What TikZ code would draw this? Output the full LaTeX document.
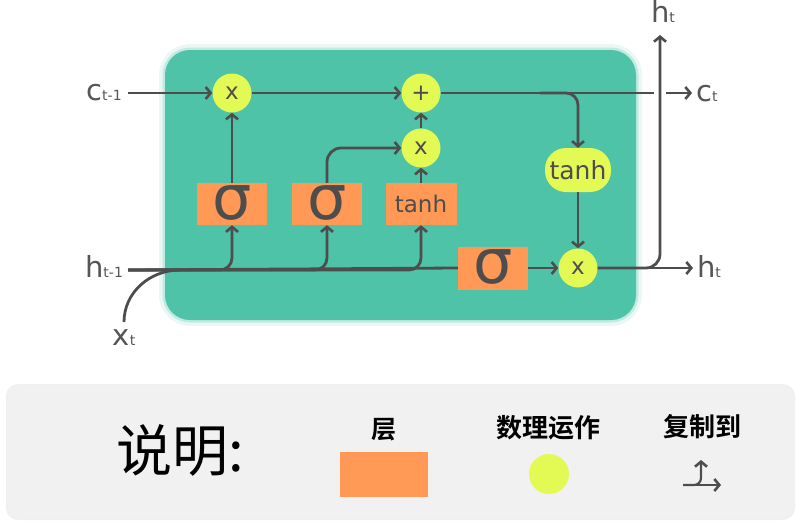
\documentclass[tikz,border=0pt]{standalone}
\usepackage{fontspec}
\setmainfont{DejaVu Sans}
\newfontfamily\cjk[BoldFont={Noto Sans CJK SC Bold}]{Noto Sans CJK SC}
\usetikzlibrary{arrows.meta}
\definecolor{boxgreen}{HTML}{4EC3A8}
\definecolor{layer}{HTML}{FF9955}
\definecolor{opyel}{HTML}{E3FA55}
\definecolor{linegray}{HTML}{4D4D4D}
\definecolor{txtgray}{HTML}{555555}
\definecolor{legbg}{HTML}{F1F1F1}
\tikzset{
  conn/.style={draw=linegray, line width=2.8pt, -{Straight Barb[length=5pt,width=12pt,line width=2.6pt]}},
  plain/.style={draw=linegray, line width=2.8pt},
  opnode/.style={circle, fill=opyel, minimum size=39pt, inner sep=0pt, text=linegray, font=\fontsize{23}{23}\selectfont},
  layerbox/.style={rectangle, fill=layer, minimum width=70pt, minimum height=42pt, inner sep=0pt, text=linegray},
  lbl/.style={text=txtgray, inner sep=0pt},
}
\newcommand{\bigsym}[2]{{\fontsize{29}{29}\selectfont #1}{\fontsize{14}{14}\selectfont #2}}
\begin{document}
\begin{tikzpicture}[x=1pt,y=-1pt]
\useasboundingbox (0,0) rectangle (800,525);
% glow + green box
\draw[boxgreen!12, line width=12pt, rounded corners=25] (165,50) rectangle (636,320);
\draw[boxgreen!35, line width=5pt, rounded corners=25] (165,50) rectangle (636,320);
\fill[boxgreen, rounded corners=25] (165,50) rectangle (636,320);

% nodes
\node[opnode] (mul1) at (232,93) {x};
\node[opnode] (add) at (421,93) {+};
\node[opnode] (mul2) at (421,148) {x};
\node[opnode] (mul3) at (578,268) {x};
\node[rectangle, rounded corners=21pt, fill=opyel, minimum width=66pt, minimum height=44pt, inner sep=0pt, text=linegray, font=\fontsize{25}{25}\selectfont] (tanhE) at (578,170) {tanh};
\node[layerbox, font=\fontsize{62}{62}\selectfont] (s1) at (232,204) {\raisebox{3pt}{σ}};
\node[layerbox, font=\fontsize{62}{62}\selectfont] (s2) at (327,204) {\raisebox{3pt}{σ}};
\node[layerbox, minimum width=71pt, font=\fontsize{23}{23}\selectfont] (tb) at (421,204) {tanh};
\node[layerbox, minimum height=43pt, font=\fontsize{62}{62}\selectfont] (s3) at (493,268) {\raisebox{3pt}{σ}};

% labels
\node[lbl] (lct1) at (104,93) {\bigsym{c}{t-1}};
\node[lbl] (lht1) at (104,266) {\bigsym{h}{t-1}};
\node[lbl] (lxt) at (124,338) {\bigsym{x}{t}};
\node[lbl] (lhtop) at (663,11) {\bigsym{h}{t}};
\node[lbl] (lct) at (707,94) {\bigsym{c}{t}};
\node[lbl] (lht) at (709,266) {\bigsym{h}{t}};

% coordinates
\coordinate (cin) at (128,93);
\coordinate (hin) at (128,270);
\coordinate (xin) at (124,322);
\coordinate (xj) at (180,270);
\coordinate (cgap1) at (654,93);
\coordinate (cgap2) at (666,93);
\coordinate (ctend) at (692,93);
\coordinate (htend) at (693,268);
\coordinate (htop) at (660,35);
\coordinate (cbr) at (540,93);

% connectors
\draw[conn] (cin) -- (mul1);
\draw[conn] (s1) -- (mul1);
\draw[conn] (mul1) -- (add);
\draw[conn] (mul2) -- (add);
\draw[conn] (tb) -- (mul2);
\draw[conn, rounded corners=14pt] (s2.north) |- (mul2.west);
\draw[plain] (add) -- (cgap1);
\draw[conn] (cgap2) -- (ctend);
\draw[conn, rounded corners=12pt] (cbr) -| (tanhE.north);
\draw[plain] (hin) -- (s3.west);
\draw[plain] (xin) to[out=90,in=180] (xj);
\draw[conn, rounded corners=12pt] (hin) -| (s1.south);
\draw[conn, rounded corners=12pt] (hin) -| (s2.south);
\draw[conn, rounded corners=12pt] (hin) -| (tb.south);
\draw[conn] (s3) -- (mul3);
\draw[conn] (tanhE) -- (mul3);
\draw[conn] (mul3) -- (htend);
\draw[conn, rounded corners=14pt] (mul3.east) -| (htop);

% legend
\fill[black!6, rounded corners=12pt] (6,384) rectangle (795,520);
\fill[legbg, rounded corners=12pt] (8,386) rectangle (793,518);
\node[inner sep=0pt, font=\cjk\fontsize{56}{56}\selectfont] (title) at (180,450) {说明:};
\node[inner sep=0pt, font=\cjk\bfseries\fontsize{25}{25}\selectfont] (l1) at (384,430) {层};
\node[inner sep=0pt, font=\cjk\bfseries\fontsize{26}{26}\selectfont] (l2) at (548,428) {数理运作};
\node[inner sep=0pt, font=\cjk\bfseries\fontsize{26}{26}\selectfont] (l3) at (702,427) {复制到};
\node[rectangle, fill=layer, minimum width=88pt, minimum height=45pt, inner sep=0pt] (legrect) at (384,474) {};
\node[circle, fill=opyel, minimum size=40pt, inner sep=0pt] (legcirc) at (549,474) {};
\coordinate (la) at (683,485);
\coordinate (lb) at (721,485);
\coordinate (lc) at (701,460);
\draw[conn, line width=2.2pt, rounded corners=7pt] (la) -| (lc);
\draw[conn, line width=2.2pt] (la) -- (lb);
\end{tikzpicture}
\end{document}
